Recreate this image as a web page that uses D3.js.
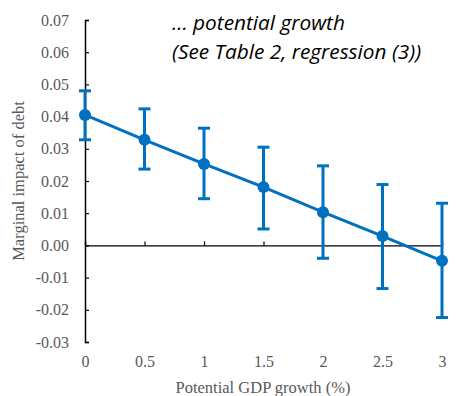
<!DOCTYPE html>
<html>
<head>
<meta charset="utf-8">
<script src="https://cdn.jsdelivr.net/npm/d3@7"></script>
<style>
  body { margin: 0; background: #fff; }
  .tick text { font-family: 'Liberation Serif', 'Times New Roman', serif; font-size: 16px; fill: #595959; }
  .axis-label { font-family: 'Liberation Serif', 'Times New Roman', serif; font-size: 16.5px; fill: #595959; }
  .note { font-family: 'Open Sans', sans-serif; font-style: italic; font-size: 20.8px; fill: #000; }
</style>
</head>
<body>
<svg width="473" height="396"></svg>
<script>
// Marginal impact of debt vs potential growth
const growth = [0, 0.5, 1, 1.5, 2, 2.5, 3];
const impact = [0.0405, 0.0328, 0.0253, 0.0181, 0.0103, 0.0029, -0.0048];
const lower = [0.0328, 0.0237, 0.0145, 0.0051, -0.0040, -0.0134, -0.0224];
const upper = [0.0480, 0.0424, 0.0364, 0.0305, 0.0247, 0.0189, 0.0131];
const xTicks = [0, 0.5, 1, 1.5, 2, 2.5, 3];
const yTicks = [-0.03, -0.02, -0.01, 0, 0.01, 0.02, 0.03, 0.04, 0.05, 0.06, 0.07];
const noteLines = ['... potential growth', '(See Table 2, regression (3))'];

const svg = d3.select('svg');
const blue = '#0070C0';

const x = d3.scaleLinear().domain([0, 3]).range([85, 442]);
const y = d3.scaleLinear().domain([-0.03, 0.07]).range([342, 20]);

const data = growth.map((g, i) => ({ g, v: impact[i], lo: lower[i], hi: upper[i] }));

// y axis (hyphen minus like the original)
const yFmt = d => d3.format('.2f')(d).replace('\u2212', '-');
const yAxisG = svg.append('g')
  .attr('transform', `translate(${x(0)},0)`)
  .call(d3.axisLeft(y).tickValues(yTicks).tickSize(-4).tickPadding(16).tickFormat(yFmt));
yAxisG.select('.domain').attr('stroke', '#000').attr('stroke-width', 1.5);
yAxisG.selectAll('.tick line').attr('stroke', '#000').attr('stroke-width', 1.2);

// x axis on zero line
const xAxisG = svg.append('g')
  .attr('transform', `translate(0,${y(0)})`)
  .call(d3.axisBottom(x).tickValues(xTicks).tickSize(-4).tickFormat(d3.format('')));
xAxisG.select('.domain').attr('stroke', '#000').attr('stroke-width', 1.2);
xAxisG.selectAll('.tick line').attr('stroke', '#000').attr('stroke-width', 1.2);
xAxisG.selectAll('.tick text').attr('y', y(-0.03) - y(0) + 25).attr('dy', null);

// error bars
const eb = svg.append('g').attr('stroke', blue).attr('stroke-width', 3);
eb.selectAll('.stem').data(data).enter().append('line')
  .attr('x1', d => x(d.g)).attr('x2', d => x(d.g))
  .attr('y1', d => y(d.lo)).attr('y2', d => y(d.hi));
eb.selectAll('.capHi').data(data).enter().append('line')
  .attr('x1', d => x(d.g) - 6).attr('x2', d => x(d.g) + 6)
  .attr('y1', d => y(d.hi)).attr('y2', d => y(d.hi));
eb.selectAll('.capLo').data(data).enter().append('line')
  .attr('x1', d => x(d.g) - 6).attr('x2', d => x(d.g) + 6)
  .attr('y1', d => y(d.lo)).attr('y2', d => y(d.lo));

// line + markers
svg.append('path').datum(data)
  .attr('fill', 'none').attr('stroke', blue).attr('stroke-width', 3)
  .attr('d', d3.line().x(d => x(d.g)).y(d => y(d.v)));
svg.selectAll('circle').data(data).enter().append('circle')
  .attr('cx', d => x(d.g)).attr('cy', d => y(d.v)).attr('r', 6)
  .attr('fill', blue);

// labels
svg.append('text').attr('class', 'axis-label')
  .attr('x', 263).attr('y', 393).attr('text-anchor', 'middle')
  .text('Potential GDP growth (%)');
svg.append('text').attr('class', 'axis-label')
  .attr('transform', 'translate(24,181) rotate(-90)').attr('text-anchor', 'middle')
  .text('Marginal impact of debt');

svg.selectAll('.note').data(noteLines).enter().append('text')
  .attr('class', 'note')
  .attr('x', 172).attr('y', (d, i) => 30 + i * 28.5)
  .text(d => d);
</script>
</body>
</html>
